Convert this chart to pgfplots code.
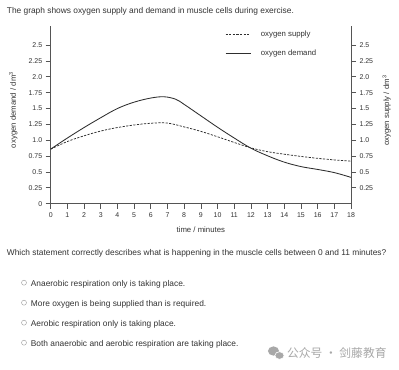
\documentclass[border=0pt]{standalone}
\usepackage{pgfplots}
\pgfplotsset{compat=1.18}
\usepackage{fontspec}
\setmainfont{Liberation Sans}
\newfontfamily\cjk{Noto Sans CJK SC}
\definecolor{ax}{HTML}{555555}
\definecolor{ln}{HTML}{2E2E2E}
\definecolor{tx}{HTML}{333333}
\definecolor{wm}{HTML}{A8A8A8}

\pgfplotstableread{
t v
0 0.86
1 0.98
2 1.07
3 1.145
4 1.20
5 1.24
6 1.268
7 1.27
8 1.21
9 1.14
10 1.055
11 0.965
12 0.88
13 0.82
14 0.78
15 0.745
16 0.715
17 0.69
18 0.67
}\supply

\pgfplotstableread{
t v
0 0.86
1 1.035
2 1.20
3 1.355
4 1.50
5 1.60
6 1.665
6.8 1.685
7.5 1.645
8 1.565
9 1.385
10 1.205
11 1.035
12 0.875
13 0.755
14 0.655
15 0.585
16 0.54
17 0.49
18 0.415
}\demand

\begin{document}
\begin{tikzpicture}[x=1bp,y=1bp]
\path[use as bounding box, fill=white] (0,0) rectangle (399,-370);

\node[anchor=base west, inner sep=0, text=tx, font=\fontsize{8.4}{10}\selectfont] at (6.7,-13.3)
  {The graph shows oxygen supply and demand in muscle cells during exercise.};

\begin{axis}[
  at={(50.7bp,-203.7bp)}, anchor=south west,
  scale only axis, width=300.3bp, height=177.7bp,
  xmin=0, xmax=18, ymin=0, ymax=2.8,
  axis x line*=bottom, axis y line*=left,
  axis line style={ax, line width=0.8bp, -},
  tick align=outside, major tick length=5bp,
  tick style={ax, line width=0.7bp},
  xtick={0,1,...,18},
  ytick={0,0.25,0.5,0.75,1.0,1.25,1.5,1.75,2.0,2.25,2.5},
  yticklabels={0,0.25,0.5,0.75,1.0,1.25,1.5,1.75,2.0,2.25,2.5},
  /pgf/number format/assume math mode=true,
  tick label style={font=\fontsize{7}{8}\selectfont, text=tx},
  clip=false,
  legend style={at={(rel axis cs:0.58,0.985)}, anchor=north west, draw=none, fill=none,
    inner sep=0pt, row sep=8bp, font=\fontsize{7.8}{9}\selectfont, text=tx,
    nodes={inner sep=2bp}},
  legend cell align=left,
  legend image code/.code={\draw[#1] (0bp,0bp) -- (25bp,0bp);},
  /tikz/every even column/.append style={column sep=0bp},
]
\addplot[ln, line width=0.75bp, dash pattern=on 2.2bp off 1.4bp, smooth, tension=0.6] table[x=t,y=v] {\supply};
\addlegendentry{\hspace{8bp}oxygen supply}
\addplot[ln, line width=0.85bp, smooth, tension=0.6] table[x=t,y=v] {\demand};
\addlegendentry{\hspace{8bp}oxygen demand}
\end{axis}

\begin{axis}[
  at={(50.7bp,-203.7bp)}, anchor=south west,
  scale only axis, width=300.3bp, height=177.7bp,
  xmin=0, xmax=18, ymin=0, ymax=2.8,
  axis x line=none, axis y line*=right,
  axis line style={ax, line width=0.8bp, -},
  tick align=outside, major tick length=5bp,
  tick style={ax, line width=0.7bp},
  ytick={0.25,0.5,0.75,1.0,1.25,1.5,1.75,2.0,2.25,2.5},
  yticklabels={0.25,0.5,0.75,1.0,1.25,1.5,1.75,2.0,2.25,2.5},
  /pgf/number format/assume math mode=true,
  tick label style={font=\fontsize{7}{8}\selectfont, text=tx},
]
\end{axis}

\node[rotate=90, text=tx, font=\fontsize{7.8}{9}\selectfont, inner sep=0] at (13.3,-110)
  {oxygen demand / dm\textsuperscript{3}};
\node[rotate=90, text=tx, font=\fontsize{7.8}{9}\selectfont, inner sep=0] at (386.7,-110.7)
  {oxygen supply / dm\textsuperscript{3}};
\node[text=tx, font=\fontsize{7.8}{9}\selectfont, inner sep=0] at (200.8,-230)
  {time / minutes};

\node[anchor=base west, inner sep=0, text=tx, font=\fontsize{8.4}{10}\selectfont] at (6.7,-255.5)
  {Which statement correctly describes what is happening in the muscle cells between 0 and 11 minutes?};

\begin{scope}[font=\fontsize{8.4}{10}\selectfont]
\foreach \yy/\txt in {286.3/Anaerobic respiration only is taking place.,
                      306.3/More oxygen is being supplied than is required.,
                      326.3/Aerobic respiration only is taking place.,
                      346.3/Both anaerobic and aerobic respiration are taking place.}{
  \draw[gray!80, line width=0.4bp] (24,-\yy+3.6) circle (2.5);
  \node[anchor=base west, inner sep=0, text=tx] at (30.7,-\yy) {\txt};
}
\end{scope}

\fill[wm] (273.5,-351) ellipse (5.6 and 4.6);
\fill[wm, draw=white, line width=0.6bp] (279.5,-355.5) ellipse (4.6 and 3.8);
\node[anchor=west, inner sep=0, text=wm, font=\cjk\fontsize{11.8}{13}\selectfont] at (287,-353)
  {公众号 · 剑藤教育};
\end{tikzpicture}
\end{document}
